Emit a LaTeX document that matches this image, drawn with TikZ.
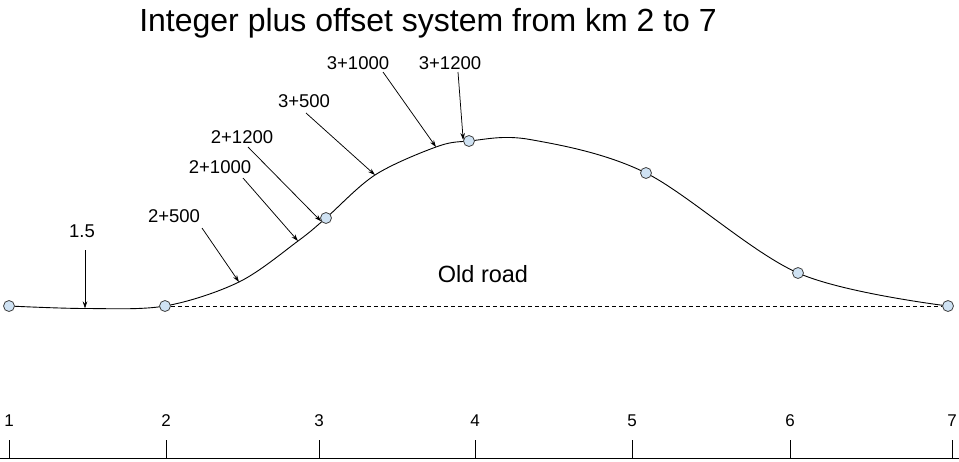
\documentclass[tikz,border=0pt]{standalone}
\usepackage{fontspec}
\setmainfont{Liberation Sans}
\usetikzlibrary{arrows.meta}
\definecolor{dotfill}{HTML}{CFE2F3}
\tikzset{
  stn/.style={circle,draw=black!75,fill=dotfill,line width=0.8pt,inner sep=0pt,minimum size=11pt},
  lbl/.style={font=\fontsize{18.5}{22}\selectfont,inner sep=0pt,anchor=base},
  ptr/.style={-{Stealth[length=7pt,width=4.5pt]},line width=0.75pt},
}
\begin{document}
\begin{tikzpicture}[x=1pt,y=-1pt]
\useasboundingbox (0,0) rectangle (959,461);
\node[font=\fontsize{32}{36}\selectfont,inner sep=0pt,anchor=base] (title) at (428,31) {Integer plus offset system from km 2 to 7};
% stations on the road
\coordinate (c1) at (9,306);
\coordinate (c2) at (165,306);
\coordinate (c3) at (326,218);
\coordinate (c4) at (469,141);
\coordinate (c5) at (646,173);
\coordinate (c6) at (798,273);
\coordinate (c7) at (948,306);
% points the labels point at
\coordinate (p15) at (85,308.5);
\coordinate (p25) at (239,282);
\coordinate (p21000) at (298,241);
\coordinate (p35) at (375,175);
\coordinate (p31000) at (436,147);
\draw[line width=0.9pt] plot[smooth,tension=0.55] coordinates {(c1) (p15) (c2) (p25) (p21000) (c3) (p35) (p31000) (c4) (530,139.5) (c5) (c6) (c7)};
\foreach \i in {1,...,7} % the dots
\node[stn] (s\i) at (c\i) {};
\draw[dash pattern=on 4pt off 3pt,line width=0.7pt] (s2) -- (s7);
\node[font=\fontsize{23.5}{26}\selectfont,inner sep=0pt,anchor=base] (old) at (483,282) {Old road};
% labels with their arrows
\node[lbl] (l15) at (82,237) {1.5};
\node[lbl] (l25) at (174,222) {2+500};
\node[lbl] (l21000) at (220,173) {2+1000};
\node[lbl] (l21200) at (242,143) {2+1200};
\node[lbl] (l35) at (304,107) {3+500};
\node[lbl] (l31000) at (358,69) {3+1000};
\node[lbl] (l31200) at (450,69) {3+1200};
\draw[ptr] ([shift={(3,13)}]l15.base) -- (p15);
\draw[ptr] ([shift={(28,6)}]l25.base) -- (p25);
\draw[ptr] ([shift={(23,5)}]l21000.base) -- (p21000);
\draw[ptr] ([shift={(6,4)}]l21200.base) -- (s3.214);
\draw[ptr] ([shift={(2,6)}]l35.base) -- (p35);
\draw[ptr] ([shift={(25,3)}]l31000.base) -- (p31000);
\draw[ptr] ([shift={(8,3)}]l31200.base) -- (s4.170);
% km axis
\draw[line width=1.3pt] (0,458.5) coordinate (a0) -- (959,458.5) coordinate (a1);
\foreach \k/\x in {1/9,2/166,3/319,4/475,5/632,6/790,7/952} % ticks and numbers
\draw[line width=0.7pt] (\x,458.5) -- (\x,440) node[font=\fontsize{17}{20}\selectfont,inner sep=0pt,anchor=base,pos=1,yshift=14pt] (k\k) {\k};
\end{tikzpicture}
\end{document}
